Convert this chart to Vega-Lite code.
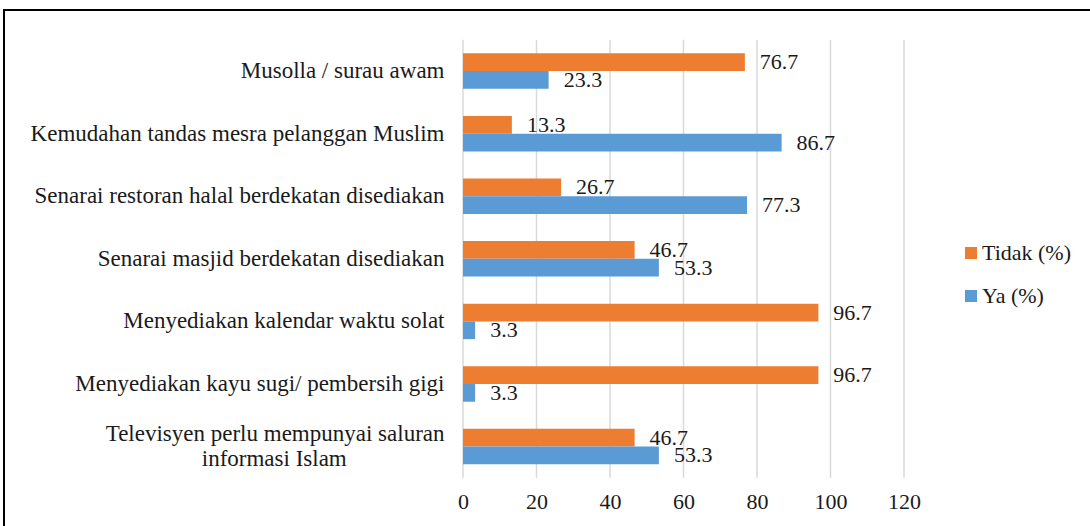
{
  "$schema": "https://vega.github.io/schema/vega-lite/v6.json",
  "width": 1100,
  "height": 530,
  "autosize": "none",
  "padding": {"left": 4, "top": 10, "right": -14, "bottom": -14},
  "background": "white",
  "config": {
    "view": {"stroke": "black", "strokeWidth": 2},
    "font": "Liberation Serif",
    "axis": {"labelFont": "Liberation Serif, serif"},
    "legend": {"labelFont": "Liberation Serif, serif"},
    "text": {"font": "Liberation Serif, serif"}
  },
  "datasets": {
    "bars": [
      {"cat": "Musolla / surau awam", "series": "Tidak (%)", "value": 76.7},
      {"cat": "Musolla / surau awam", "series": "Ya (%)", "value": 23.3},
      {"cat": "Kemudahan tandas mesra pelanggan Muslim", "series": "Tidak (%)", "value": 13.3},
      {"cat": "Kemudahan tandas mesra pelanggan Muslim", "series": "Ya (%)", "value": 86.7},
      {"cat": "Senarai restoran halal berdekatan disediakan", "series": "Tidak (%)", "value": 26.7},
      {"cat": "Senarai restoran halal berdekatan disediakan", "series": "Ya (%)", "value": 77.3},
      {"cat": "Senarai masjid berdekatan disediakan", "series": "Tidak (%)", "value": 46.7},
      {"cat": "Senarai masjid berdekatan disediakan", "series": "Ya (%)", "value": 53.3},
      {"cat": "Menyediakan kalendar waktu solat", "series": "Tidak (%)", "value": 96.7},
      {"cat": "Menyediakan kalendar waktu solat", "series": "Ya (%)", "value": 3.3},
      {"cat": "Menyediakan kayu sugi/ pembersih gigi", "series": "Tidak (%)", "value": 96.7},
      {"cat": "Menyediakan kayu sugi/ pembersih gigi", "series": "Ya (%)", "value": 3.3},
      {"cat": "Televisyen perlu mempunyai saluran informasi Islam", "series": "Tidak (%)", "value": 46.7},
      {"cat": "Televisyen perlu mempunyai saluran informasi Islam", "series": "Ya (%)", "value": 53.3}
    ],
    "grid": [
      {"value": 0, "cat": "Musolla / surau awam", "cat2": "Televisyen perlu mempunyai saluran informasi Islam"},
      {"value": 20, "cat": "Musolla / surau awam", "cat2": "Televisyen perlu mempunyai saluran informasi Islam"},
      {"value": 40, "cat": "Musolla / surau awam", "cat2": "Televisyen perlu mempunyai saluran informasi Islam"},
      {"value": 60, "cat": "Musolla / surau awam", "cat2": "Televisyen perlu mempunyai saluran informasi Islam"},
      {"value": 80, "cat": "Musolla / surau awam", "cat2": "Televisyen perlu mempunyai saluran informasi Islam"},
      {"value": 100, "cat": "Musolla / surau awam", "cat2": "Televisyen perlu mempunyai saluran informasi Islam"},
      {"value": 120, "cat": "Musolla / surau awam", "cat2": "Televisyen perlu mempunyai saluran informasi Islam"}
    ]
  },
  "layer": [
    {
      "data": {"name": "grid"},
      "mark": {"type": "rule", "color": "#d9d9d9", "strokeWidth": 1.5},
      "encoding": {
        "x": {"field": "value", "type": "quantitative", "title": null},
        "y": {"field": "cat", "type": "nominal", "bandPosition": 0, "title": null},
        "y2": {"field": "cat2", "bandPosition": 1}
      }
    },
    {
      "data": {"name": "bars"},
      "mark": {"type": "bar"},
      "encoding": {
        "y": {
          "field": "cat",
          "type": "nominal",
          "title": null,
          "scale": {
            "domain": [
              "Musolla / surau awam",
              "Kemudahan tandas mesra pelanggan Muslim",
              "Senarai restoran halal berdekatan disediakan",
              "Senarai masjid berdekatan disediakan",
              "Menyediakan kalendar waktu solat",
              "Menyediakan kayu sugi/ pembersih gigi",
              "Televisyen perlu mempunyai saluran informasi Islam"
            ],
            "paddingInner": 0,
            "paddingOuter": 0.735,
            "align": 0.324
          },
          "axis": {
            "orient": "left",
            "offset": -459,
            "domain": false,
            "ticks": false,
            "grid": false,
            "labelPadding": 19,
            "labelFontSize": 23,
            "labelFont": "Liberation Serif, serif",
            "labelColor": "#1a1a1a",
            "labelLimit": 1000,
            "labelLineHeight": 25,
            "labelOffset": {
              "condition": {"test": "datum.value == 'Televisyen perlu mempunyai saluran informasi Islam'", "value": -12.5},
              "value": 0
            },
            "labelExpr": "datum.value == 'Televisyen perlu mempunyai saluran informasi Islam' ? ['Televisyen perlu mempunyai saluran', 'informasi Islam\u00a0\u00a0\u00a0\u00a0\u00a0\u00a0\u00a0\u00a0\u00a0\u00a0\u00a0\u00a0\u00a0\u00a0\u00a0\u00a0\u00a0\u200b'] : datum.value"
          }
        },
        "yOffset": {
          "field": "series",
          "type": "nominal",
          "scale": {"domain": ["Tidak (%)", "Ya (%)"], "paddingInner": 0, "paddingOuter": 0.7625}
        },
        "x": {
          "field": "value",
          "type": "quantitative",
          "title": null,
          "scale": {"domain": [-124.898, 174.422], "nice": false, "zero": false},
          "axis": {
            "orient": "bottom",
            "offset": -62,
            "values": [0, 20, 40, 60, 80, 100, 120],
            "grid": false,
            "domain": false,
            "ticks": false,
            "labelFontSize": 22,
            "labelFont": "Liberation Serif, serif",
            "labelPadding": 13,
            "labelColor": "#1a1a1a"
          }
        },
        "color": {
          "field": "series",
          "type": "nominal",
          "scale": {"domain": ["Tidak (%)", "Ya (%)"], "range": ["#ED7D31", "#5B9BD5"]},
          "legend": {
            "title": null,
            "orient": "none",
            "legendX": 956,
            "legendY": 232,
            "symbolType": "square",
            "symbolSize": 144,
            "symbolStrokeWidth": 0,
            "labelFontSize": 22,
            "labelFont": "Liberation Serif, serif",
            "labelColor": "#1a1a1a",
            "labelOffset": 0,
            "rowPadding": 21
          }
        }
      }
    },
    {
      "data": {"name": "bars"},
      "mark": {"type": "text", "align": "left", "baseline": "middle", "dx": 15, "fontSize": 22, "font": "Liberation Serif, serif", "color": "#1a1a1a"},
      "encoding": {
        "y": {"field": "cat", "type": "nominal", "title": null},
        "yOffset": {"field": "series", "type": "nominal"},
        "x": {"field": "value", "type": "quantitative", "title": null},
        "text": {"field": "value", "type": "quantitative", "format": ".1f"}
      }
    }
  ]
}
